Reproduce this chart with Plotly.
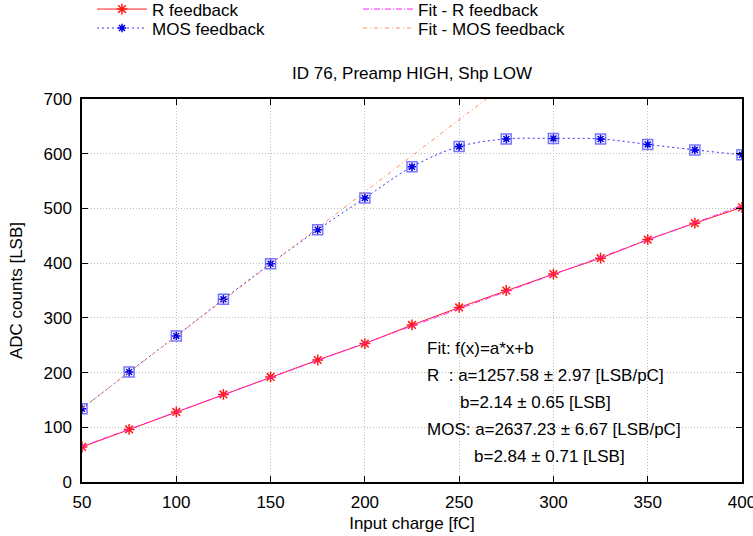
import numpy as np
import plotly.graph_objects as go

# ---- data ----
charge_fc = [50, 75, 100, 125, 150, 175, 200, 225, 250, 275, 300, 325, 350, 375, 400]
r_feedback = [64, 96, 128, 160, 192, 223, 253, 287, 319, 350, 380, 409, 443, 473, 502]
mos_feedback = [134, 201, 267, 334, 399, 461, 519, 576, 613, 627, 628, 627, 617, 607, 598]

# fit parameters (a in LSB/pC, b in LSB)
fit_r = {"a": 1257.58, "a_err": 2.97, "b": 2.14, "b_err": 0.65}
fit_mos = {"a": 2637.23, "a_err": 6.67, "b": 2.84, "b_err": 0.71}

title_text = "ID 76, Preamp HIGH, Shp LOW"
x_title = "Input charge [fC]"
y_title = "ADC counts [LSB]"
x_ticks = [50, 100, 150, 200, 250, 300, 350, 400]
y_ticks = [0, 100, 200, 300, 400, 500, 600, 700]

FONT = "Liberation Sans, Arial, sans-serif"
FS = 17

xfit = np.array([charge_fc[0], charge_fc[-1]], dtype=float)
yfit_r = fit_r["a"] * xfit / 1000.0 + fit_r["b"]
yfit_mos = fit_mos["a"] * xfit / 1000.0 + fit_mos["b"]

fig = go.Figure()

# MOS squares (no legend)
fig.add_trace(go.Scatter(
    x=charge_fc, y=mos_feedback, mode="markers", showlegend=False,
    marker=dict(symbol="square-open", size=10, color="rgba(60,60,255,0.7)",
                line=dict(width=1.5, color="rgba(60,60,255,0.7)")),
    hoverinfo="skip"))

# row 1 legend
fig.add_trace(go.Scatter(
    x=charge_fc, y=r_feedback, mode="lines+markers", name="R feedback",
    line=dict(color="#ff2020", width=1),
    marker=dict(symbol="asterisk-open", size=9, color="#ff1a1a",
                line=dict(width=1.5, color="#ff1a1a")),
    legend="legend"))
fig.add_trace(go.Scatter(
    x=xfit, y=yfit_r, mode="lines", name="Fit - R feedback",
    line=dict(color="#ff20ff", width=1, dash="6px,2px,1px,2px"),
    legend="legend"))

# row 2 legend
fig.add_trace(go.Scatter(
    x=charge_fc, y=mos_feedback, mode="lines+markers", name="MOS feedback",
    line=dict(color="#3030ff", width=1, dash="2px,3px", shape="spline", smoothing=1),
    marker=dict(symbol="asterisk-open", size=7, color="#0000e0",
                line=dict(width=1.5, color="#0000e0")),
    legend="legend2"))
fig.add_trace(go.Scatter(
    x=xfit, y=yfit_mos, mode="lines", name="Fit - MOS feedback",
    line=dict(color="#ff8a60", width=1, dash="4px,3px,1px,3px"),
    legend="legend2"))

ann_lines = [
    ("Fit: f(x)=a*x+b", 425, 348),
    ("R  : a=%.2f \u00b1 %.2f [LSB/pC]" % (fit_r["a"], fit_r["a_err"]), 425, 375),
    ("b=%.2f \u00b1 %.2f [LSB]" % (fit_r["b"], fit_r["b_err"]), 458, 402),
    ("MOS: a=%.2f \u00b1 %.2f [LSB/pC]" % (fit_mos["a"], fit_mos["a_err"]), 425, 429),
    ("b=%.2f \u00b1 %.2f [LSB]" % (fit_mos["b"], fit_mos["b_err"]), 472, 456),
]
W, H = 753, 536
L, R, T, B = 82, 11, 99, 54
pw, ph = W - L - R, H - T - B
annotations = []
for txt, px, py in ann_lines:
    annotations.append(dict(
        text=txt, xref="paper", yref="paper",
        x=(px - L) / pw, y=(H - B - py) / ph,
        xanchor="left", yanchor="middle", showarrow=False,
        font=dict(family=FONT, size=FS, color="black")))

legend_common = dict(orientation="h", xref="container", yref="container",
                     xanchor="left", yanchor="middle",
                     entrywidth=201, entrywidthmode="pixels",
                     itemwidth=50, bgcolor="rgba(0,0,0,0)",
                     font=dict(family=FONT, size=FS, color="black"))

axis_common = dict(ticks="inside", ticklen=6, tickcolor="black",
                   showline=True, linecolor="black", linewidth=1.5,
                   mirror="ticks", showgrid=True, gridcolor="#bdbdbd",
                   griddash="1px,2px", gridwidth=1, zeroline=False,
                   automargin=False, tickfont=dict(family=FONT, size=FS),
                   ticklabeloverflow="allow")

fig.update_layout(
    width=W, height=H,
    margin=dict(l=L, r=R, t=T, b=B, autoexpand=False),
    paper_bgcolor="white", plot_bgcolor="white",
    font=dict(family=FONT, size=FS, color="black"),
    title=dict(text=title_text, x=(L + pw / 2) / W, xanchor="center",
               y=1 - 73 / H, yanchor="middle", font=dict(family=FONT, size=FS)),
    legend=dict(x=92 / W, y=1 - 9.5 / H, **legend_common),
    legend2=dict(x=92 / W, y=1 - 28.5 / H, **legend_common),
    annotations=annotations,
    xaxis=dict(range=[50, 400], tickvals=x_ticks, ticklabelstandoff=4,
               title=dict(text=x_title, standoff=6, font=dict(family=FONT, size=FS)),
               **axis_common),
    yaxis=dict(range=[0, 700], tickvals=y_ticks, ticklabelstandoff=5,
               title=dict(text=y_title, standoff=17, font=dict(family=FONT, size=FS)),
               **axis_common),
)

fig.write_html("out.html")
